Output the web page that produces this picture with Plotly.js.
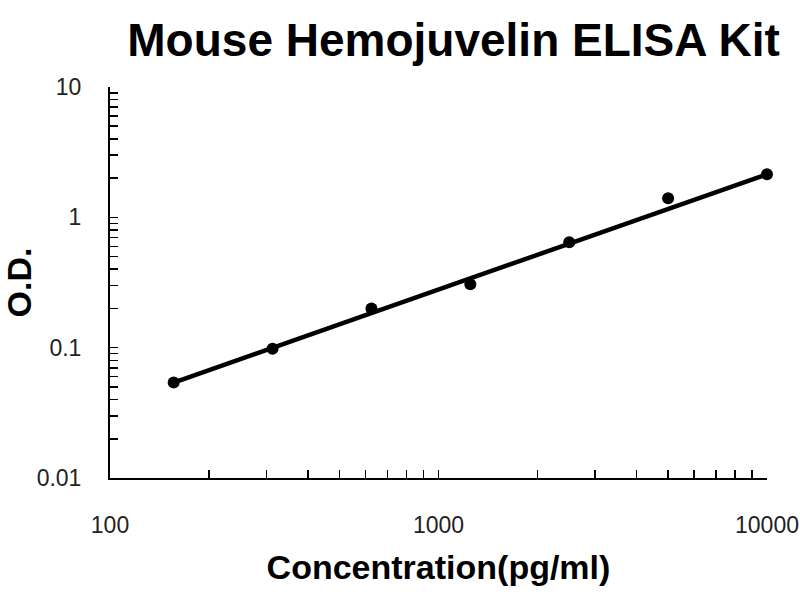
<!DOCTYPE html>
<html>
<head>
<meta charset="utf-8">
<script src="https://cdn.plot.ly/plotly-3.0.1.min.js"></script>
<style>html,body{margin:0;padding:0;background:#fff;}#chart{width:800px;height:600px;}</style>
</head>
<body>
<div id="chart"></div>
<script>
// Data
var concentration = [156.25, 312.5, 625, 1250, 2500, 5000, 10000];
var od = [0.054, 0.098, 0.200, 0.307, 0.645, 1.40, 2.14];
// Trend line (power fit as drawn in the reference), endpoints
var fitX = [156.25, 10000];
var fitY = [0.054, 2.14];
var xTickVals = [100, 1000, 10000];
var xTickText = ['100', '1000', '10000'];
var yTickVals = [0.01, 0.1, 1, 10];
var yTickText = ['0.01', '0.1', '1', '10'];

var boldFont = '"Liberation Sans", Arial, sans-serif';
var labelFont = '"Liberation Sans", Arial, sans-serif';

var traces = [
  {
    x: fitX, y: fitY, mode: 'lines', type: 'scatter',
    line: {color: '#000', width: 4.5}, hoverinfo: 'skip', showlegend: false,
    cliponaxis: false
  },
  {
    x: concentration, y: od, mode: 'markers', type: 'scatter',
    marker: {color: '#000', size: 12}, showlegend: false,
    cliponaxis: false
  }
];

var layout = {
  width: 800, height: 600,
  paper_bgcolor: '#fff', plot_bgcolor: '#fff',
  margin: {l: 110, r: 33, t: 87, b: 122},
  title: {
    text: '<b>Mouse Hemojuvelin ELISA Kit</b>',
    font: {family: boldFont, size: 46, color: '#000'},
    xref: 'container', x: 0.567, xanchor: 'center',
    yref: 'container', y: 0.933, yanchor: 'middle'
  },
  xaxis: {
    type: 'log', range: [2, 4],
    tickvals: xTickVals, ticktext: xTickText,
    ticks: 'inside', ticklen: 8, tickwidth: 1.5, tickcolor: '#000',
    showline: true, linecolor: '#000', linewidth: 2,
    showgrid: false, zeroline: false, mirror: false,
    tickfont: {family: labelFont, size: 23, color: '#222'},
    ticklabelstandoff: 25,
    minor: {ticks: 'inside', ticklen: 8, tickwidth: 1.5, tickcolor: '#000', dtick: 'D1', showgrid: false},
    title: {text: '<b>Concentration(pg/ml)</b>', font: {family: boldFont, size: 34, color: '#000'}, standoff: 19}
  },
  yaxis: {
    type: 'log', range: [-2, 1],
    tickvals: yTickVals, ticktext: yTickText,
    ticks: 'inside', ticklen: 8, tickwidth: 1.5, tickcolor: '#000',
    showline: true, linecolor: '#000', linewidth: 2,
    showgrid: false, zeroline: false, mirror: false,
    tickfont: {family: labelFont, size: 23, color: '#222'},
    ticklabelstandoff: 22,
    minor: {ticks: 'inside', ticklen: 8, tickwidth: 1.5, tickcolor: '#000', dtick: 'D1', showgrid: false},
    title: {text: '<b>O.D.</b>', font: {family: boldFont, size: 34, color: '#000'}, standoff: 9}
  }
};

Plotly.newPlot('chart', traces, layout, {displayModeBar: false, staticPlot: true});
</script>
</body>
</html>
